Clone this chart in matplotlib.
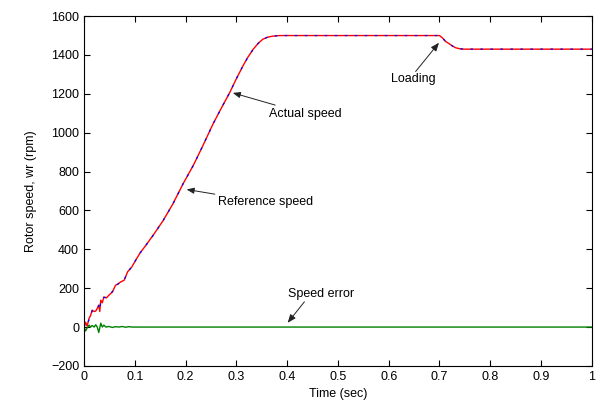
import matplotlib
matplotlib.use("Agg")
import matplotlib.pyplot as plt

plt.rcParams['font.family'] = ['Liberation Sans', 'DejaVu Sans']

# Time (s) and actual rotor speed (rpm)
t_speed = [0, 0.003, 0.006, 0.010, 0.013, 0.016, 0.020, 0.023, 0.026, 0.029, 0.031,
           0.033, 0.036, 0.039, 0.044, 0.049, 0.056, 0.062, 0.067, 0.072, 0.079,
           0.086, 0.094, 0.102, 0.110, 0.123, 0.136, 0.156, 0.175, 0.195, 0.215,
           0.234, 0.254, 0.270, 0.287, 0.300, 0.313, 0.323, 0.333, 0.343, 0.352,
           0.362, 0.372, 0.385, 0.40, 0.5, 0.6, 0.70, 0.705, 0.712, 0.719, 0.725,
           0.732, 0.740, 0.748, 0.76, 1.0]
actual_speed = [0, 25, 5, 45, 60, 87, 80, 82, 96, 113, 80,
                138, 125, 155, 150, 164, 181, 215, 222, 232, 241,
                285, 309, 345, 380, 425, 472, 549, 634, 737, 831,
                933, 1045, 1125, 1207, 1278, 1344, 1390, 1429, 1460, 1481,
                1492, 1497, 1500, 1500, 1500, 1500, 1500, 1490, 1470, 1458, 1447,
                1437, 1432, 1430, 1430, 1430]
reference_speed = [0, 20, 10, 40, 62, 84, 82, 84, 98, 110, 88,
                   132, 130, 152, 152, 165, 183, 212, 222, 232, 242,
                   285, 309, 345, 380, 425, 472, 549, 634, 737, 831,
                   933, 1045, 1125, 1207, 1278, 1344, 1390, 1429, 1460, 1481,
                   1492, 1497, 1500, 1500, 1500, 1500, 1500, 1490, 1470, 1458, 1447,
                   1437, 1432, 1430, 1430, 1430]

# Speed error
t_err = [0, 0.003, 0.006, 0.010, 0.013, 0.016, 0.020, 0.023, 0.026, 0.029, 0.033,
         0.036, 0.039, 0.043, 0.049, 0.056, 0.062, 0.069, 0.075, 0.082, 0.088,
         0.095, 0.10, 1.0]
speed_error = [0, -20, -5, 10, 0, 8, 0, 12, 0, -28, 20,
               0, 10, 0, 3, -2, 2, 0, 3, -1, 2,
               0, 0, 0]

xticks = [0, 0.1, 0.2, 0.3, 0.4, 0.5, 0.6, 0.7, 0.8, 0.9, 1]
xticklabels = ['0', '0.1', '0.2', '0.3', '0.4', '0.5', '0.6', '0.7', '0.8', '0.9', '1']
yticks = [-200, 0, 200, 400, 600, 800, 1000, 1200, 1400, 1600]

fig = plt.figure(figsize=(5.96, 4.03), dpi=100)
ax = fig.add_axes([0.141, 0.092, 0.852, 0.868])

ax.plot(t_err, speed_error, color='#008000', lw=1.0)
ax.plot(t_speed, actual_speed, color='red', lw=1.0)
ax.plot(t_speed, reference_speed, color='blue', lw=0.9, ls=(0, (2, 6)))

ax.set_xlim(0, 1)
ax.set_ylim(-200, 1600)
ax.set_xticks(xticks)
ax.set_xticklabels(xticklabels)
ax.set_yticks(yticks)
ax.tick_params(direction='in', top=True, right=True, labelsize=9, length=4, width=0.8)
for s in ax.spines.values():
    s.set_linewidth(0.8)
ax.set_xlabel('Time (sec)', fontsize=9, labelpad=4)
ax.set_ylabel('Rotor speed, wr (rpm)', fontsize=9, labelpad=10)

ap = dict(arrowstyle='-|>,head_length=0.5,head_width=0.2', color='#222222', lw=0.7,
          shrinkA=0, shrinkB=0)
ax.annotate('Actual speed', xy=(0.293, 1205), xytext=(0.365, 1097),
            fontsize=9, va='center', ha='left', arrowprops=ap)
ax.annotate('Reference speed', xy=(0.202, 708), xytext=(0.263, 641),
            fontsize=9, va='center', ha='left', arrowprops=ap)
ax.annotate('', xy=(0.699, 1463), xytext=(0.653, 1315), arrowprops=ap)
ax.text(0.648, 1277, 'Loading', fontsize=9, va='center', ha='center')
ax.annotate('', xy=(0.401, 22), xytext=(0.434, 130), arrowprops=ap)
ax.text(0.466, 169, 'Speed error', fontsize=9, va='center', ha='center')

fig.savefig('out.png', dpi=100)
